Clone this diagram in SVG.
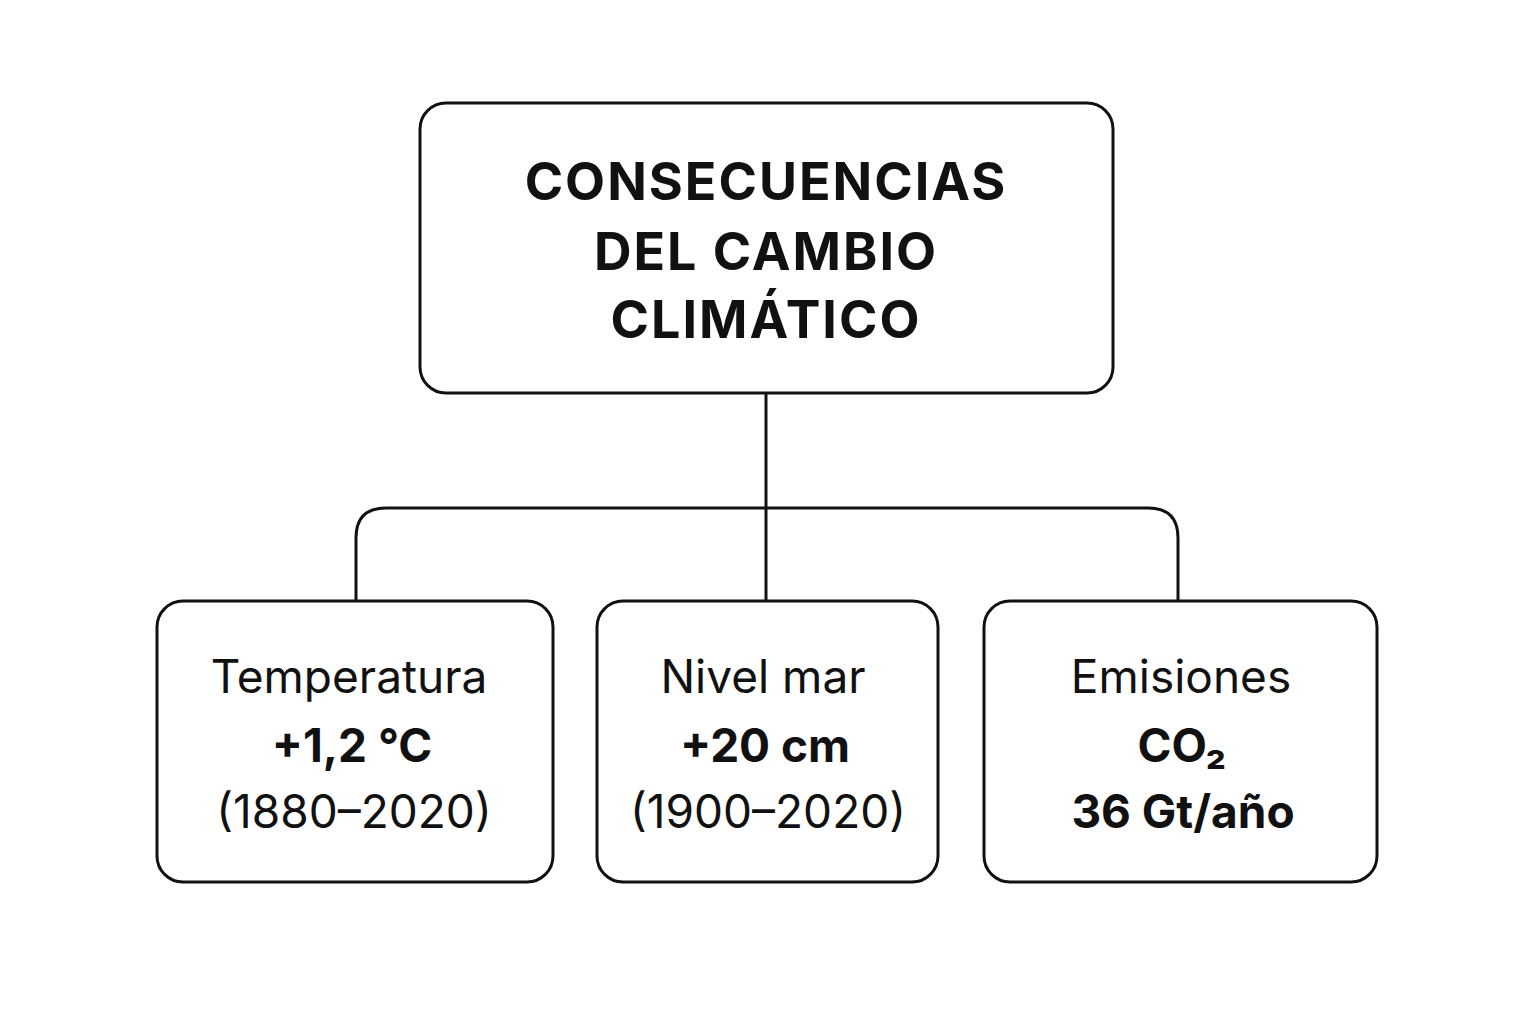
<svg xmlns="http://www.w3.org/2000/svg" width="1536" height="1024" viewBox="0 0 1536 1024">
<style>
.box{fill:#fff;stroke:#111;stroke-width:3}
.ln{fill:none;stroke:#111;stroke-width:3}
.t{font-family:Inter,"Liberation Sans",sans-serif;text-anchor:middle;fill:#111}
.h{font-size:52px;font-weight:700;letter-spacing:2px}
.r{font-size:46px}
.b{font-size:46px;font-weight:700}
</style>
<rect width="1536" height="1024" fill="#fff"/>
<g id="connectors">
<path class="ln" d="M766 393V601"/>
<path class="ln" d="M356 601V538Q356 508 386 508H1148Q1178 508 1178 538V601"/>
</g>
<g id="title">
<rect class="box" x="420" y="103" width="693" height="290" rx="26"/>
<text class="t h" x="766" y="200">CONSECUENCIAS</text>
<text class="t h" x="766" y="270">DEL CAMBIO</text>
<text class="t h" x="766" y="338">CLIMÁTICO</text>
</g>
<g id="temp">
<rect class="box" x="157" y="601" width="396" height="281" rx="26"/>
<text class="t r" x="349" y="693">Temperatura</text>
<text class="t b" x="352" y="762">+1,2 °C</text>
<text class="t r" x="354" y="828">(1880–2020)</text>
</g>
<g id="mar">
<rect class="box" x="597" y="601" width="341" height="281" rx="26"/>
<text class="t r" x="763" y="693">Nivel mar</text>
<text class="t b" x="765" y="762">+20 cm</text>
<text class="t r" x="768" y="828">(1900–2020)</text>
</g>
<g id="emis">
<rect class="box" x="984" y="601" width="393" height="281" rx="26"/>
<text class="t r" x="1181" y="693">Emisiones</text>
<text class="t b" x="1182" y="762">CO₂</text>
<text class="t b" x="1183" y="828">36 Gt/año</text>
</g>
</svg>
